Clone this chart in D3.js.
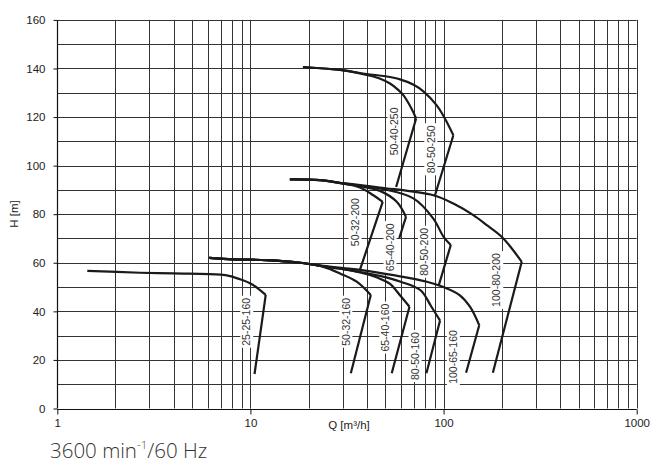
<!DOCTYPE html>
<html>
<head>
<meta charset="utf-8">
<script src="https://cdn.jsdelivr.net/npm/d3@7"></script>
<style>
  html, body { margin: 0; padding: 0; background: #fff; }
  svg { display: block; }
</style>
</head>
<body>
<svg id="chart" width="653" height="464"></svg>
<script>
// ---------- data ----------
const names = ["25-25-160","50-32-160","65-40-160","80-50-160","100-65-160",
               "50-32-200","65-40-200","80-50-200","100-80-200",
               "50-40-250","80-50-250"];

// head curves (Q in m³/h, H in m) – max impeller diameter
const curveQ = [
  [1.43, 2.68, 3.99, 7.0, 7.84, 9.0, 10.0, 11.0, 12.0],
  [6.12, 8.16, 12.1, 18.1, 23.9, 29.1, 35.5, 42.0],
  [6.12, 8.16, 12.1, 18.1, 23.9, 30.3, 36.9, 45, 52.8, 59.6, 66.6],
  [6.12, 8.16, 12.1, 18.1, 23.9, 30.3, 36.9, 46.8, 60, 76, 86.5, 95.9],
  [6.12, 8.16, 12.1, 18.1, 23.8, 36.9, 55, 81.9, 100, 121, 137, 153],
  [16.0, 22.9, 30.3, 36.9, 43.3, 48.4],
  [16.0, 22.9, 30.3, 36.9, 46.8, 57.2, 63.9],
  [16.0, 22.9, 30.3, 46.8, 69.8, 88.5, 100, 109],
  [30.3, 46.8, 88.5, 112.4, 142.6, 167.4, 200, 254],
  [18.7, 30.3, 40, 47, 52.8, 58, 61.9, 68.2, 72.1],
  [18.7, 30.3, 40, 50, 59.5, 70, 78.6, 92.2, 100.6, 112.4]
];
const curveH = [
  [56.7, 55.9, 55.6, 55.1, 54.5, 53.0, 51.5, 49.3, 46.8],
  [62.0, 61.4, 61.1, 60.0, 58.3, 55.6, 52.2, 46.7],
  [62.0, 61.4, 61.1, 60.0, 58.5, 57.4, 56.0, 54.0, 51.3, 46.5, 41.9],
  [62.0, 61.4, 61.1, 60.0, 58.5, 57.4, 56.2, 54.6, 52.2, 48.7, 41.9, 36.2],
  [62.0, 61.4, 61.1, 60.0, 58.7, 57.1, 54.9, 52.2, 50.0, 46.7, 41.9, 34.3],
  [94.3, 94.0, 92.6, 91.0, 87.8, 85.1],
  [94.3, 94.0, 92.6, 91.5, 89.6, 85.1, 78.9],
  [94.3, 94.0, 92.6, 90.6, 86.5, 78.2, 70.7, 67.3],
  [92.8, 91.0, 87.8, 84.4, 79.6, 75.5, 70.7, 60.4],
  [140.6, 139.2, 137.3, 135.8, 133.8, 131.3, 129.0, 123.5, 119.4],
  [140.6, 139.2, 137.7, 136.8, 135.5, 133.3, 130.6, 124.8, 120.0, 112.5]
];
// end of the trimmed-impeller line
const endQ = [10.5, 33.1, 53.9, 81.5, 130.8, 36.9, 59.0, 94.5, 180, 56.8, 90.3];
const endH = [14.2, 14.5, 14.5, 14.5, 14.7, 57.1, 70.2, 50.8, 14.7, 91.2, 87.8];

// label anchor (Q, H) for each pump name
const labelQ = [9.57, 31.2, 50.2, 71.2, 112.4, 34.8, 52.8, 79.6, 188.6, 55.4, 85.9];
const labelH = [35.7, 35.7, 33.3, 21.6, 21.2, 76.7, 66.4, 64.5, 52.9, 114.1, 106.7];

const xTickValues = [1, 10, 100, 1000];
const yTickValues = [0, 20, 40, 60, 80, 100, 120, 140, 160];
const xAxisTitle = "Q [m³/h]";
const yAxisTitle = "H [m]";

// ---------- layout ----------
const svg = d3.select("#chart");
const x = d3.scaleLog().domain([1, 1000]).range([57.3, 636.7]);
const y = d3.scaleLinear().domain([0, 160]).range([408.5, 19.9]);
const font = "'Liberation Sans', Arial, sans-serif";

// grid
const xGrid = [];
for (let d = 1; d < 1000; d *= 10) for (let k = 1; k <= 10; k++) xGrid.push(d * k);
const yGrid = d3.range(0, 161, 10);

const grid = svg.append("g");
grid.selectAll("line.vx").data(xGrid.filter(v => v > 1)).join("line")
  .attr("x1", d => Math.round(x(d)) + 0.5).attr("x2", d => Math.round(x(d)) + 0.5)
  .attr("y1", y(160)).attr("y2", y(0))
  .attr("stroke", "#333").attr("stroke-width", 1);
grid.selectAll("line.hy").data(yGrid.filter(v => v > 0)).join("line")
  .attr("y1", d => Math.round(y(d)) + 0.5).attr("y2", d => Math.round(y(d)) + 0.5)
  .attr("x1", x(1)).attr("x2", x(1000))
  .attr("stroke", "#333").attr("stroke-width", 1);

// axes
const xAxis = d3.axisBottom(x).tickValues(xTickValues).tickFormat(d3.format("d")).tickSize(5).tickPadding(4);
const yAxis = d3.axisLeft(y).tickValues(yTickValues).tickSize(4).tickPadding(8);
const gx = svg.append("g").attr("transform", `translate(0,${Math.round(y(0)) + 0.5})`).call(xAxis);
const gy = svg.append("g").attr("transform", `translate(${Math.round(x(1)) + 0.5},0)`).call(yAxis);
[gx, gy].forEach(g => {
  g.select(".domain").attr("stroke", "#111").attr("stroke-width", 1.2);
  g.selectAll(".tick line").attr("stroke", "#111");
  g.selectAll(".tick text").attr("font-family", font).attr("font-size", 11.5).attr("fill", "#222");
});
gx.select(".domain").attr("d", `M${x(1)},0H${x(1000)}`);
gy.select(".domain").attr("d", `M0,${y(0)}V${y(160)}`);

// axis titles
svg.append("text").attr("x", 349).attr("y", 428.5).attr("text-anchor", "middle")
  .attr("font-family", font).attr("font-size", 11.5).attr("fill", "#222").text(xAxisTitle);
svg.append("text").attr("transform", "translate(18,214) rotate(-90)").attr("text-anchor", "middle")
  .attr("font-family", font).attr("font-size", 11.5).attr("fill", "#222").text(yAxisTitle);

// labels with white boxes
const labels = svg.append("g");
names.forEach((n, i) => {
  const g = labels.append("g").attr("transform", `translate(${x(labelQ[i])},${y(labelH[i])}) rotate(-90)`);
  const t = g.append("text").attr("text-anchor", "middle").attr("dy", "0.35em")
    .attr("font-family", font).attr("font-size", 10.5).attr("fill", "#333").text(n);
  const bb = t.node().getBBox();
  g.insert("rect", "text").attr("x", bb.x - 2).attr("y", -6.5).attr("width", bb.width + 4).attr("height", 13)
    .attr("fill", "#fff");
});

// curves
const lineGen = d3.line().x(d => x(d[0])).y(d => y(d[1])).curve(d3.curveCatmullRom.alpha(0.5));
const curves = svg.append("g").attr("fill", "none").attr("stroke", "#1a1a1a").attr("stroke-width", 2.2)
  .attr("stroke-linejoin", "round").attr("stroke-linecap", "butt");
names.forEach((n, i) => {
  const pts = curveQ[i].map((q, j) => [q, curveH[i][j]]);
  curves.append("path").attr("d", lineGen(pts));
  const last = pts[pts.length - 1];
  curves.append("path").attr("d", d3.line().x(d => x(d[0])).y(d => y(d[1]))([last, [endQ[i], endH[i]]]));
});

// footer
const foot = svg.append("text").attr("x", 50).attr("y", 457.5)
  .attr("font-family", "'Open Sans', 'DejaVu Sans', sans-serif").attr("font-size", 20.5)
  .attr("font-weight", 300).attr("fill", "#333");
foot.append("tspan").text("3600 min");
foot.append("tspan").attr("font-size", 11.5).attr("dy", -8.5).text("-1");
foot.append("tspan").attr("dy", 8.5).text("/60 Hz");
</script>
</body>
</html>
